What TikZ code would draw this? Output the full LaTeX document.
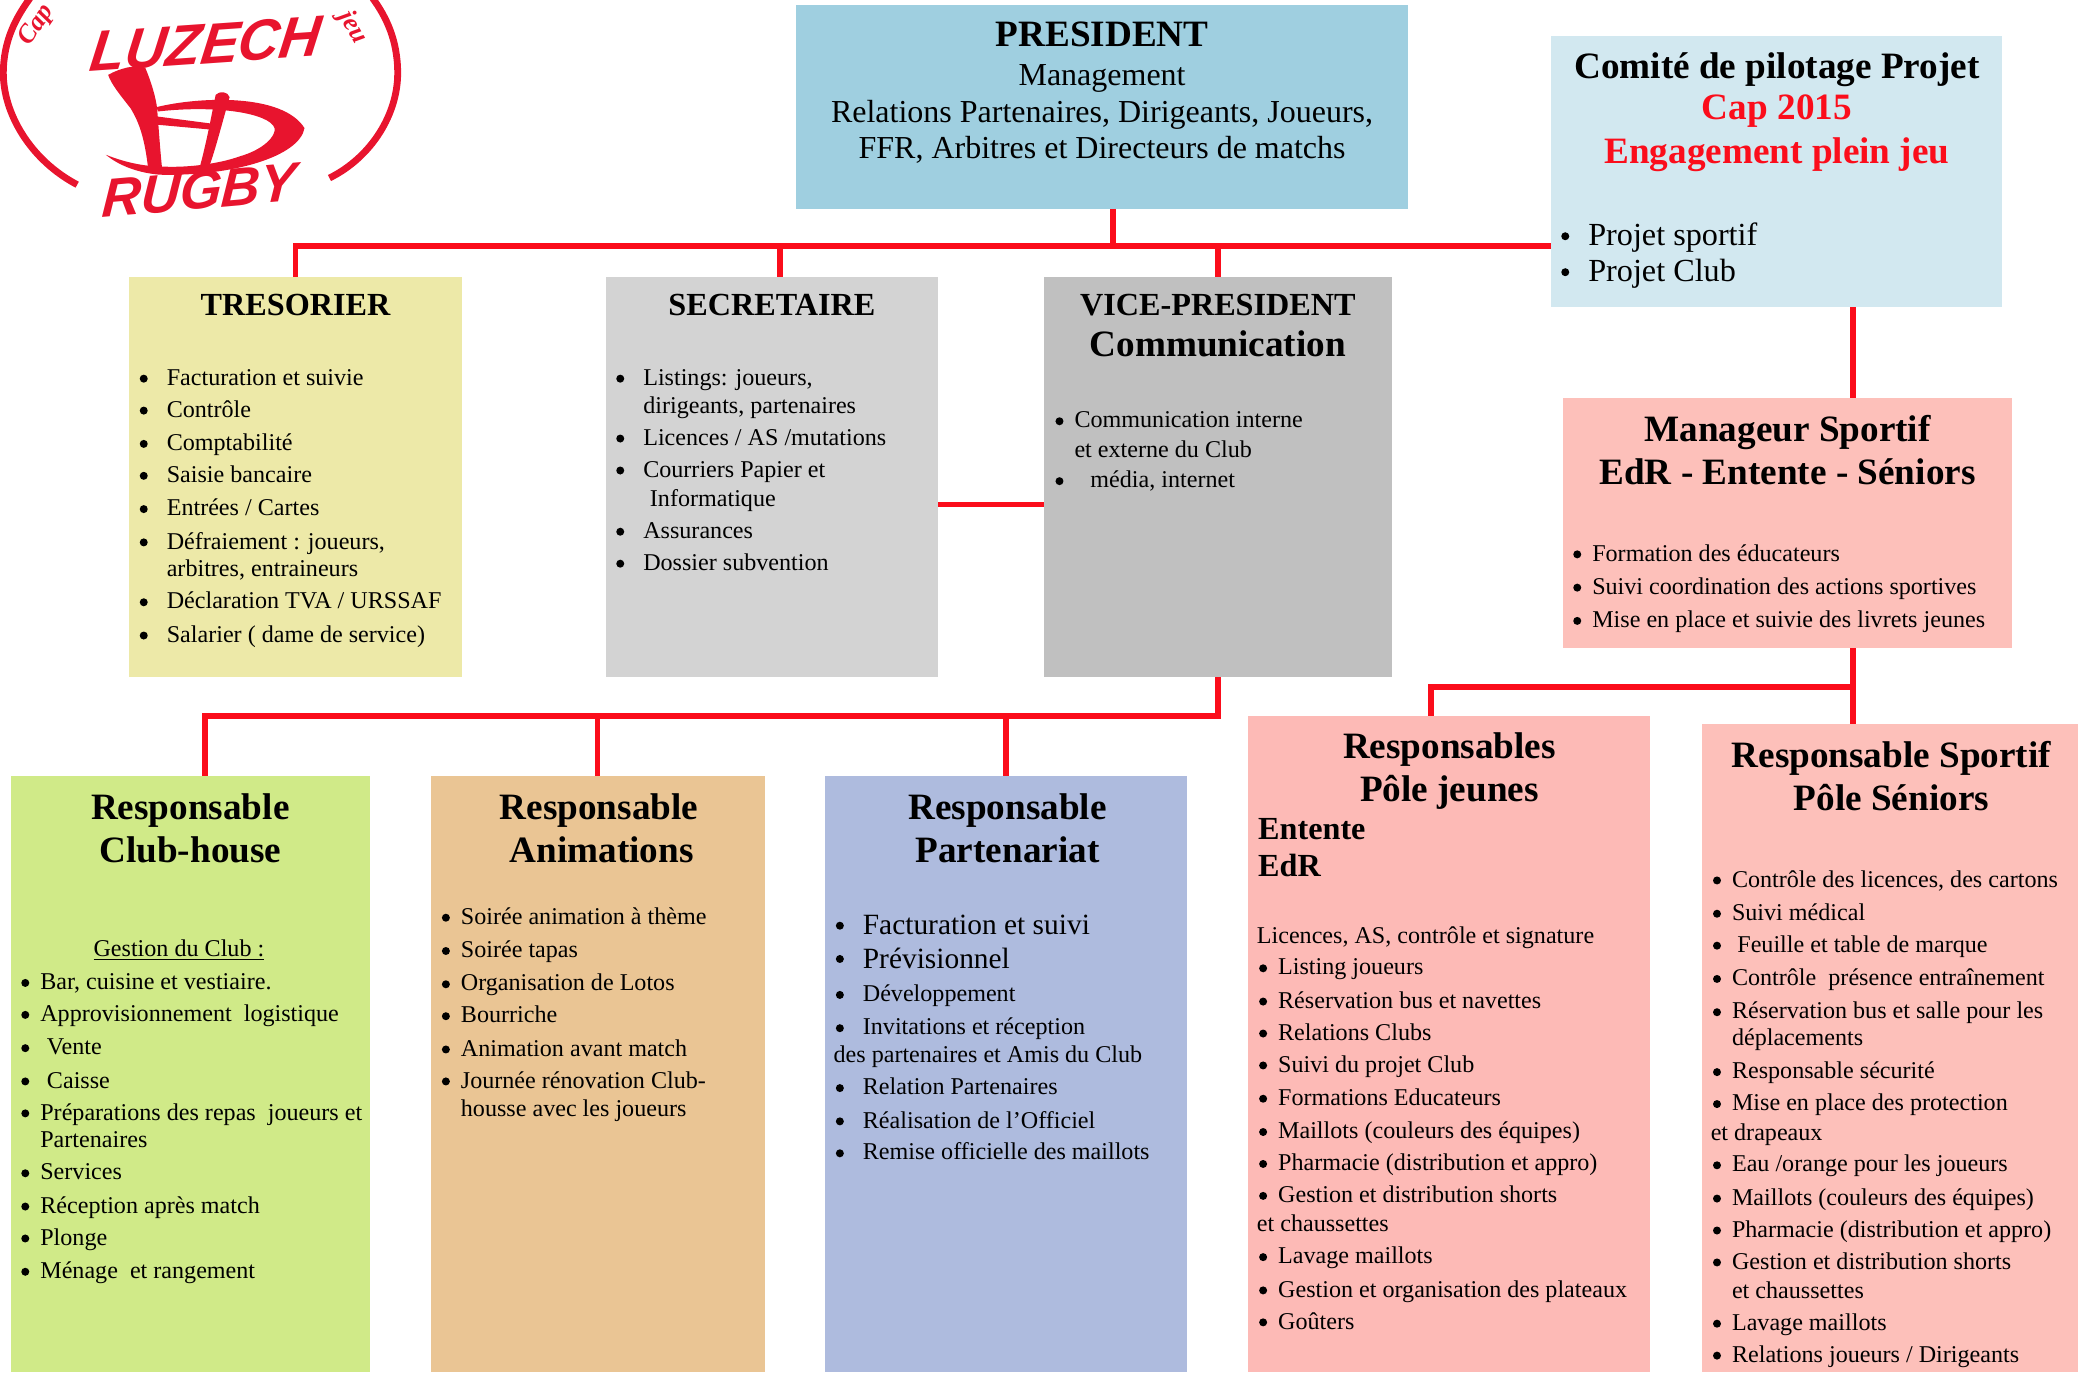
\documentclass[tikz,border=0pt]{standalone}
\usepackage{fontspec}
\setmainfont{Liberation Serif}
\newfontfamily\logofont{Liberation Sans}
\definecolor{cPres}{HTML}{9FCFE0}
\definecolor{cComite}{HTML}{D2E8F0}
\definecolor{cTres}{HTML}{EDE9A8}
\definecolor{cSec}{HTML}{D3D3D3}
\definecolor{cVP}{HTML}{C0C0C0}
\definecolor{cRose}{HTML}{FDC0BA}
\definecolor{cRoseB}{HTML}{FDBAB6}
\definecolor{cClub}{HTML}{D0EA88}
\definecolor{cAnim}{HTML}{EAC594}
\definecolor{cPart}{HTML}{AEBBDE}
\definecolor{cRed}{HTML}{FB0D1B}
\definecolor{cLogo}{HTML}{E8142E}
\newcounter{tn}
\tikzset{
 box/.style={anchor=north west,inner sep=0pt,outer sep=0pt,draw=none},
 link/.style={draw=cRed,line width=2.8pt},
 txtl/.style={anchor=base west,inner sep=0pt,text=black},
 txtc/.style={anchor=base,inner sep=0pt,text=black},
 body/.style={font=\fontsize{12.05}{13}\selectfont},
 mid/.style={font=\fontsize{14.7}{16}\selectfont,yshift=-1.3pt},
 pre/.style={font=\fontsize{16}{18}\selectfont,yshift=-0.6pt},
 big/.style={font=\fontsize{16.1}{18}\selectfont,yshift=-1.3pt},
 ttl/.style={font=\bfseries\fontsize{18.6}{20}\selectfont,yshift=-2pt},
 ttls/.style={font=\bfseries\fontsize{16.1}{18}\selectfont,yshift=-1.4pt},
 dot/.style={circle,fill=black,inner sep=0pt,minimum size=4pt},
 logo/.style={fill=cLogo,draw=none},
}
\newcommand\BOXN[6]{\pgfmathsetmacro\bw{(#5-#3)*0.6655}\pgfmathsetmacro\bh{(#6-#4)*0.6655}%
 \node[box,fill=#2,minimum width=\bw pt,minimum height=\bh pt] (#1) at (#3,#4) {};}
\newcommand\LL[4]{\stepcounter{tn}\node[txtl,#1] (t\arabic{tn}) at (#2,#3+5.5) {#4};}
\newcommand\CC[4]{\stepcounter{tn}\node[txtc,#1] (t\arabic{tn}) at (#2,#3+6) {#4};}
\newcommand\BL[5]{\stepcounter{tn}\node[dot] (b\arabic{tn}) at (#2,#4+0.5) {};\LL{#1}{#3}{#4}{#5}}
\begin{document}
\begin{tikzpicture}[x=0.6655pt,y=-0.6655pt]
\path[use as bounding box] (0,0) rectangle (1568,1031);
\BOXN{pres}{cPres}{598}{4}{1058}{157}
\BOXN{comite}{cComite}{1165}{27}{1504}{231}
\BOXN{tres}{cTres}{97}{208}{347}{509}
\BOXN{sec}{cSec}{455}{208}{705}{509}
\BOXN{vp}{cVP}{784}{208}{1046}{509}
\BOXN{mgr}{cRose}{1174}{299}{1512}{487}
\BOXN{club}{cClub}{8}{583}{278}{1031}
\BOXN{anim}{cAnim}{324}{583}{575}{1031}
\BOXN{part}{cPart}{620}{583}{892}{1031}
\BOXN{jeunes}{cRoseB}{938}{538}{1240}{1031}
\BOXN{sen}{cRose}{1279}{544}{1561}{1031}
% connectors
\coordinate (jPres) at (836,185);
\coordinate (jSec) at (586,185);
\coordinate (jSV) at (705,379);
\coordinate (jVP) at (915,538);
\coordinate (jC) at (154,538);
\coordinate (jA) at (449,538);
\coordinate (jP) at (756,538);
\coordinate (jM) at (1392,516);
\coordinate (jJ) at (1075,516);
\draw[link] (tres.north) |- (comite.west |- jPres);
\draw[link] (pres.south -| jPres) -- (jPres);
\draw[link] (sec.north -| jSec) -- (jSec);
\draw[link] (vp.north) -- (vp.north |- jPres);
\draw[link] (sec.east |- jSV) -- (vp.west |- jSV);
\draw[link] (vp.south) -- (jVP) -- (jC) -- (club.north -| jC);
\draw[link] (jA) -- (anim.north -| jA);
\draw[link] (jP) -- (part.north -| jP);
\draw[link] (comite.south -| jM) -- (mgr.north -| jM);
\draw[link] (mgr.south -| jM) -- (sen.north -| jM);
\draw[link] (jM) -- (jJ) -- (jeunes.north -| jJ);
% logo
\begin{scope}[x=0.1664pt,y=-0.1664pt]
\draw[cLogo,line width=3.4pt] (232,555) .. controls (90,480) and (10,340) .. (10,220) .. controls (10,120) and (50,50) .. (90,-5);
\draw[cLogo,line width=3.4pt] (990,535) .. controls (1120,470) and (1195,340) .. (1195,220) .. controls (1195,120) and (1160,50) .. (1120,-5);
\fill[logo] (325,225) .. controls (360,205) and (410,192) .. (437,205) .. controls (452,240) and (468,290) .. (472,325) .. controls (478,400) and (482,460) .. (487,505) -- (445,505) .. controls (435,420) and (420,370) .. (392,325) .. controls (365,290) and (335,255) .. (325,225) -- cycle;
\fill[logo] (470,322) .. controls (600,290) and (850,280) .. (915,385) .. controls (900,470) and (700,530) .. (480,525) .. controls (420,520) and (360,500) .. (318,465) .. controls (380,490) and (440,500) .. (480,500) .. controls (550,505) and (650,495) .. (720,470) .. controls (790,450) and (830,410) .. (825,385) .. controls (810,340) and (650,315) .. (475,335) -- cycle;
\fill[logo] (648,285) .. controls (660,272) and (685,275) .. (690,292) .. controls (670,360) and (650,440) .. (630,497) -- (600,503) .. controls (620,430) and (635,350) .. (648,285) -- cycle;
\fill[logo] (472,350) -- (640,372) -- (640,390) -- (475,375) -- cycle;
\end{scope}
\node[inner sep=0pt,text=cLogo,rotate=4,xslant=0.2] (logoA) at (155,33) {\logofont\itshape\bfseries\fontsize{28.5}{30}\selectfont LUZECH};
\node[inner sep=0pt,text=cLogo,rotate=5,xslant=0.15] (logoB) at (150,143) {\logofont\itshape\bfseries\fontsize{27}{29}\selectfont RUGBY};
\node[inner sep=0pt,text=cLogo,rotate=56] (logoC) at (28,19) {\bfseries\itshape\fontsize{13}{14}\selectfont Cap};
\node[inner sep=0pt,text=cLogo,rotate=-60] (logoD) at (265,21) {\bfseries\itshape\fontsize{13}{14}\selectfont jeu};
% president
\CC{ttl}{828}{26}{PRESIDENT}
\CC{pre}{828}{57}{Management}
\CC{pre}{828}{85}{Relations Partenaires, Dirigeants, Joueurs,}
\CC{pre}{828}{112}{FFR, Arbitres et Directeurs de matchs}
% comite
\CC{ttl}{1335}{50}{Comité de pilotage Projet}
\CC{ttl,text=cRed}{1335}{81}{Cap 2015}
\CC{ttl,text=cRed}{1335}{114}{Engagement plein jeu}
\BL{big}{1176}{1193}{177}{Projet sportif}
\BL{big}{1176}{1193}{204}{Projet Club}
% tresorier
\CC{ttls}{222}{229}{TRESORIER}
\BL{body}{108}{125}{284}{Facturation et suivie}
\BL{body}{108}{125}{308}{Contrôle}
\BL{body}{108}{125}{333}{Comptabilité}
\BL{body}{108}{125}{357}{Saisie bancaire}
\BL{body}{108}{125}{382}{Entrées / Cartes}
\BL{body}{108}{125}{407}{Défraiement : joueurs,}
\LL{body}{125}{428}{arbitres, entraineurs}
\BL{body}{108}{125}{452}{Déclaration TVA / URSSAF}
\BL{body}{108}{125}{477}{Salarier ( dame de service)}
% secretaire
\CC{ttls}{580}{229}{SECRETAIRE}
\BL{body}{466}{483}{284}{Listings: joueurs,}
\LL{body}{483}{305}{dirigeants, partenaires}
\BL{body}{466}{483}{329}{Licences / AS /mutations}
\BL{body}{466}{483}{353}{Courriers Papier et}
\LL{body}{488}{375}{Informatique}
\BL{body}{466}{483}{399}{Assurances}
\BL{body}{466}{483}{423}{Dossier subvention}
% vp
\CC{ttls}{915}{229}{VICE-PRESIDENT}
\CC{ttl}{915}{259}{Communication}
\BL{body}{796}{807}{316}{Communication interne}
\LL{body}{807}{338}{et externe du Club}
\BL{body}{796}{819}{361}{média, internet}
% manager
\CC{ttl}{1343}{323}{Manageur Sportif}
\CC{ttl}{1343}{355}{EdR - Entente - Séniors}
\BL{body}{1185}{1196}{416}{Formation des éducateurs}
\BL{body}{1185}{1196}{441}{Suivi coordination des actions sportives}
\BL{body}{1185}{1196}{466}{Mise en place et suivie des livrets jeunes}
% club-house
\CC{ttl}{143}{607}{Responsable}
\CC{ttl}{143}{639}{Club-house}
\LL{body}{70}{713}{\underline{Gestion du Club :}}
\BL{body}{19}{30}{738}{Bar, cuisine et vestiaire.}
\BL{body}{19}{30}{762}{Approvisionnement~ logistique}
\BL{body}{19}{35}{787}{Vente}
\BL{body}{19}{35}{812}{Caisse}
\BL{body}{19}{30}{836}{Préparations des repas~ joueurs et}
\LL{body}{30}{857}{Partenaires}
\BL{body}{19}{30}{881}{Services}
\BL{body}{19}{30}{906}{Réception après match}
\BL{body}{19}{30}{930}{Plonge}
\BL{body}{19}{30}{955}{Ménage~ et rangement}
% animations
\CC{ttl}{450}{607}{Responsable}
\CC{ttl}{452}{639}{Animations}
\BL{body}{335}{346}{689}{Soirée animation à thème}
\BL{body}{335}{346}{714}{Soirée tapas}
\BL{body}{335}{346}{739}{Organisation de Lotos}
\BL{body}{335}{346}{763}{Bourriche}
\BL{body}{335}{346}{788}{Animation avant match}
\BL{body}{335}{346}{812}{Journée rénovation Club-}
\LL{body}{346}{833}{housse avec les joueurs}
% partenariat
\CC{ttl}{757}{607}{Responsable}
\CC{ttl}{757}{639}{Partenariat}
\BL{mid}{631}{648}{695}{Facturation et suivi}
\BL{mid}{631}{648}{720}{Prévisionnel}
\BL{body}{631}{648}{747}{Développement}
\BL{body}{631}{648}{772}{Invitations et réception}
\LL{body}{626}{793}{des partenaires et Amis du Club}
\BL{body}{631}{648}{817}{Relation Partenaires}
\BL{body}{631}{648}{842}{Réalisation de l’Officiel}
\BL{body}{631}{648}{866}{Remise officielle des maillots}
% jeunes
\CC{ttl}{1089}{561}{Responsables}
\CC{ttl}{1089}{593}{Pôle jeunes}
\LL{ttls}{945}{623}{Entente}
\LL{ttls}{945}{651}{EdR}
\LL{body}{944}{703}{Licences, AS, contrôle et signature}
\BL{body}{949}{960}{727}{Listing joueurs}
\BL{body}{949}{960}{752}{Réservation bus et navettes}
\BL{body}{949}{960}{776}{Relations Clubs}
\BL{body}{949}{960}{800}{Suivi du projet Club}
\BL{body}{949}{960}{825}{Formations Educateurs}
\BL{body}{949}{960}{850}{Maillots (couleurs des équipes)}
\BL{body}{949}{960}{874}{Pharmacie (distribution et appro)}
\BL{body}{949}{960}{898}{Gestion et distribution shorts}
\LL{body}{944}{920}{et chaussettes}
\BL{body}{949}{960}{944}{Lavage maillots}
\BL{body}{949}{960}{969}{Gestion et organisation des plateaux}
\BL{body}{949}{960}{993}{Goûters}
% seniors
\CC{ttl}{1421}{568}{Responsable Sportif}
\CC{ttl}{1421}{600}{Pôle Séniors}
\BL{body}{1290}{1301}{661}{Contrôle des licences, des cartons}
\BL{body}{1290}{1301}{686}{Suivi médical}
\BL{body}{1290}{1305}{710}{Feuille et table de marque}
\BL{body}{1290}{1301}{735}{Contrôle~ présence entraînement}
\BL{body}{1290}{1301}{760}{Réservation bus et salle pour les}
\LL{body}{1301}{780}{déplacements}
\BL{body}{1290}{1301}{805}{Responsable sécurité}
\BL{body}{1290}{1301}{829}{Mise en place des protection}
\LL{body}{1285}{851}{et drapeaux}
\BL{body}{1290}{1301}{875}{Eau /orange pour les joueurs}
\BL{body}{1290}{1301}{900}{Maillots (couleurs des équipes)}
\BL{body}{1290}{1301}{924}{Pharmacie (distribution et appro)}
\BL{body}{1290}{1301}{948}{Gestion et distribution shorts}
\LL{body}{1301}{970}{et chaussettes}
\BL{body}{1290}{1301}{994}{Lavage maillots}
\BL{body}{1290}{1301}{1018}{Relations joueurs / Dirigeants}
\end{tikzpicture}
\end{document}
